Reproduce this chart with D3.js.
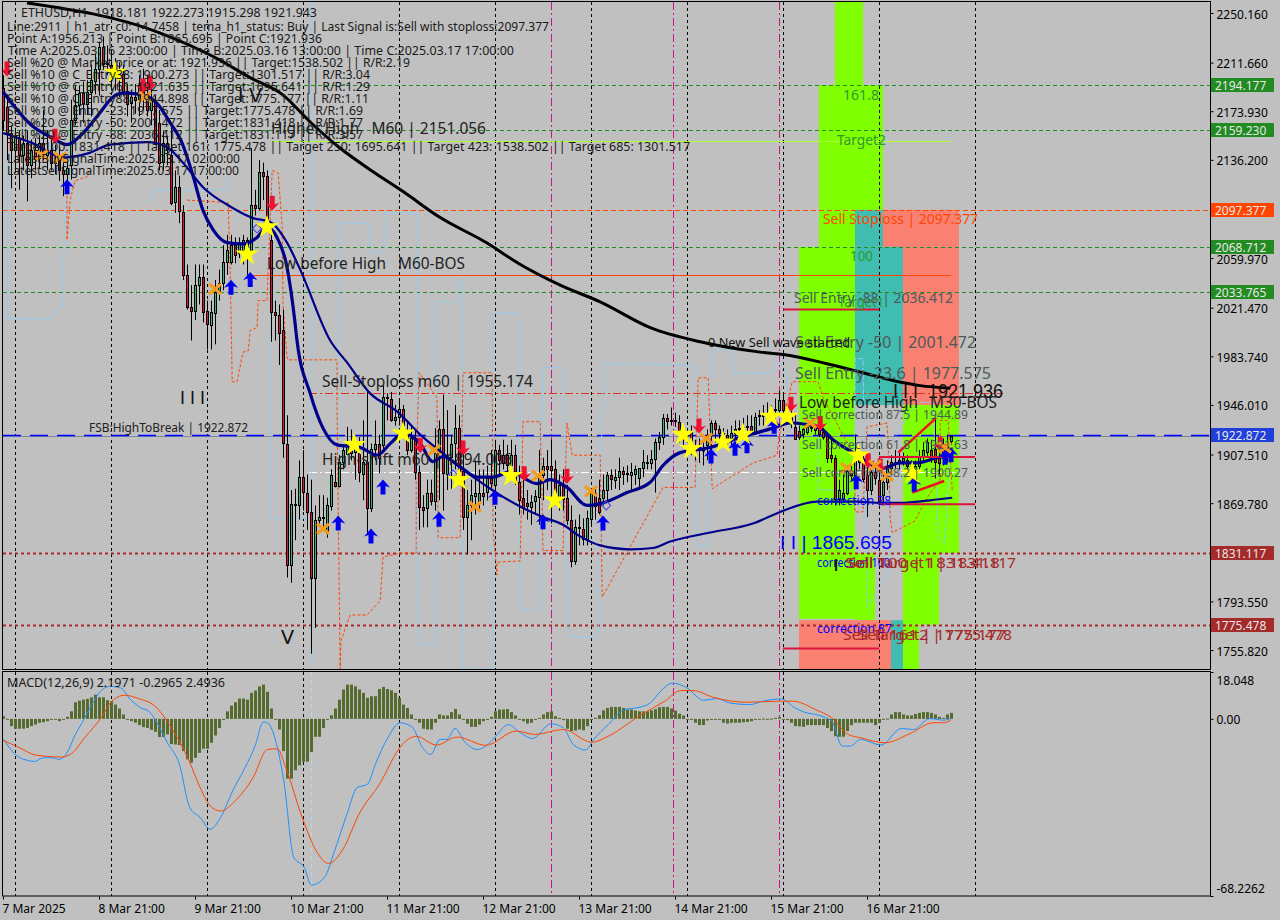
<!DOCTYPE html>
<html><head><meta charset="utf-8">
<script src="https://cdnjs.cloudflare.com/ajax/libs/d3/7.8.5/d3.min.js"></script>
<style>html,body{margin:0;padding:0;background:#c0c0c0}svg{display:block}text{font-family:"Noto Sans",sans-serif;white-space:pre}</style>
</head><body><div id="c"></div>
<script>
const priceTicks=[2250.16,2211.66,2173.93,2136.2,2059.97,2021.47,1983.74,1946.01,1907.51,1869.78,1793.55,1755.82];
const timeLabels=["7 Mar 2025","8 Mar 21:00","9 Mar 21:00","10 Mar 21:00","11 Mar 21:00","12 Mar 21:00","13 Mar 21:00","14 Mar 21:00","15 Mar 21:00","16 Mar 21:00"];
const timeTickBars=[0,24,48,72,96,120,144,168,192,216];
const gridBars=[3,27,51,75,99,123,147,171,195,219,243];
const magentaBars=[137,167.5,194];
const greenLevels=[2194.177,2159.23,2068.712,2033.765];
const badges=[[2194.177,"#228b22"],[2159.23,"#228b22"],[2097.377,"#ff4500"],[2068.712,"#228b22"],[2033.765,"#228b22"],[1922.872,"#1f3fd8"],[1831.117,"#a52a2a"],[1775.478,"#a52a2a"]];
const zones=[
[208,215,2258.7,2194.2,"#7fff00"],[204,220,2194.2,2097.4,"#7fff00"],[204,213,2097.4,2068.7,"#7fff00"],[213,220,2097.4,2068.7,"#40bdb0"],[220,239,2097.4,2068.7,"#fa8072"],
[199,213,2068.7,1780,"#7fff00"],[213,225,2068.7,1946,"#40bdb0"],[225,239,2068.7,1946,"#fa8072"],[225,239,1946,1831.1,"#7fff00"],[225,234,1831.1,1775.5,"#7fff00"],[213,218,1831.1,1779,"#7fff00"],
[199,222,1779,1741,"#fa8072"],[222,225,1779,1741,"#40bdb0"],[225,229,1775.5,1741,"#7fff00"]];
const ohlc=[
[2192,2202,2159,2167],[2177,2187,2136,2157],[2157,2163,2114,2144],[2144,2161,2128,2155],[2153,2159,2113,2140],[2140,2155,2128,2149],[2149,2159,2104,2132],[2132,2152,2122,2144],[2144,2153,2128,2137],[2137,2155,2130,2149],
[2149,2175,2136,2140],[2140,2159,2128,2144],[2144,2155,2128,2134],[2134,2148,2125,2136],[2136,2146,2120,2128],[2128,2140,2108,2125],[2125,2135,2110,2130],[2132,2183,2121,2167],[2167,2194,2163,2179],[2179,2194,2171,2188],
[2188,2197,2165,2180],[2180,2198,2171,2189],[2189,2210,2170,2198],[2198,2218,2187,2207],[2207,2228,2186,2224],[2224,2232,2206,2211],[2211,2225,2202,2210],[2210,2222,2190,2202],[2202,2215,2190,2204],[2204,2212,2185,2206],
[2203,2210,2186,2190],[2190,2195,2170,2180],[2180,2190,2165,2185],[2185,2195,2172,2183],[2183,2202,2170,2194],[2194,2207,2175,2186],[2186,2202,2170,2175],[2175,2194,2163,2183],[2183,2186,2148,2149],[2165,2175,2128,2134],
[2134,2159,2128,2149],[2149,2155,2132,2144],[2140,2163,2101,2103],[2103,2128,2095,2115],[2115,2124,2087,2096],[2096,2101,2043,2047],[2047,2055,2020,2022],[2022,2039,1996,2019],[2019,2055,2012,2039],[2039,2055,2024,2045],
[2045,2055,2010,2018],[2019,2027,1989,2009],[2008,2027,1989,2018],[2018,2043,1993,2034],[2034,2051,2027,2041],[2041,2070,2035,2057],[2057,2078,2047,2066],[2057,2078,2055,2070],[2070,2076,2056,2062],[2064,2076,2060,2072],
[2066,2078,2055,2074],[2074,2076,2047,2064],[2066,2145,2064,2101],[2101,2113,2093,2099],[2099,2136,2097,2127],[2127,2134,2105,2124],[2124,2128,2090,2091],[2074,2086,1995,2018],[2018,2027,1996,2016],[2016,2024,1977,2002],
[2004,2020,1905,1916],[1916,1938,1812,1822],[1822,1880,1808,1869],[1869,1881,1841,1868],[1868,1903,1857,1890],[1890,1911,1864,1878],[1878,1892,1849,1863],[1863,1888,1753,1812],[1812,1868,1773,1857],[1857,1876,1854,1859],
[1859,1876,1849,1858],[1846,1874,1843,1868],[1868,1896,1864,1892],[1886,1905,1882,1883],[1883,1907,1882,1902],[1902,1915,1896,1911],[1908,1929,1907,1916],[1916,1927,1903,1909],[1909,1919,1888,1913],[1909,1921,1886,1894],
[1893,1934,1872,1902],[1902,1957,1846,1866],[1866,1916,1863,1912],[1912,1934,1903,1916],[1916,1923,1893,1905],[1915,1961,1911,1952],[1952,1955,1934,1951],[1951,1956,1933,1935],[1935,1946,1930,1937],[1937,1950,1930,1943],
[1943,1946,1927,1930],[1925,1934,1907,1911],[1911,1930,1909,1920],[1920,1927,1888,1894],[1894,1899,1849,1867],[1867,1876,1851,1865],[1866,1888,1851,1878],[1878,1888,1868,1872],[1872,1928,1864,1909],[1909,1934,1872,1927],
[1927,1954,1864,1893],[1893,1942,1880,1906],[1906,1923,1881,1916],[1916,1946,1896,1928],[1928,1938,1892,1895],[1895,1911,1849,1859],[1859,1880,1830,1868],[1868,1888,1841,1876],[1876,1903,1861,1878],[1870,1896,1864,1878],
[1878,1896,1868,1876],[1878,1899,1872,1889],[1889,1911,1880,1885],[1884,1919,1876,1911],[1911,1915,1892,1903],[1907,1919,1896,1901],[1907,1915,1889,1899],[1899,1919,1888,1907],[1907,1915,1884,1886],[1886,1899,1861,1872],
[1874,1888,1861,1866],[1870,1880,1857,1868],[1867,1876,1853,1871],[1871,1880,1861,1875],[1875,1911,1853,1892],[1892,1905,1872,1899],[1899,1911,1880,1897],[1899,1919,1854,1896],[1896,1903,1868,1872],[1874,1892,1864,1884],
[1884,1896,1864,1873],[1874,1884,1853,1857],[1857,1868,1820,1825],[1825,1857,1822,1851],[1851,1861,1837,1850],[1850,1858,1837,1842],[1841,1864,1837,1858],[1858,1880,1853,1878],[1878,1882,1857,1868],[1874,1888,1861,1863],
[1874,1892,1868,1880],[1880,1894,1872,1892],[1892,1896,1880,1889],[1888,1896,1881,1890],[1890,1905,1880,1895],[1895,1898,1884,1893],[1893,1899,1886,1892],[1892,1901,1880,1894],[1892,1899,1884,1896],[1889,1897,1880,1897],
[1897,1911,1890,1902],[1902,1907,1896,1901],[1901,1911,1896,1904],[1904,1920,1878,1917],[1917,1925,1911,1921],[1921,1939,1915,1936],[1936,1939,1927,1934],[1934,1944,1930,1933],[1933,1940,1929,1934],[1933,1938,1917,1924],
[1924,1930,1915,1923],[1923,1928,1919,1923],[1925,1930,1907,1913],[1913,1919,1903,1912],[1913,1920,1901,1911],[1911,1919,1899,1911],[1915,1927,1903,1923],[1923,1934,1911,1932],[1932,1934,1917,1927],[1927,1930,1915,1924],
[1924,1928,1915,1923],[1923,1927,1912,1920],[1920,1930,1915,1924],[1924,1934,1919,1927],[1927,1934,1921,1928],[1928,1936,1923,1929],[1929,1938,1923,1930],[1930,1938,1923,1925],[1925,1940,1923,1937],[1937,1942,1930,1938],
[1938,1946,1930,1937],[1937,1948,1933,1940],[1940,1946,1930,1942],[1942,1951,1934,1943],[1942,1957,1938,1950],[1950,1954,1940,1942],[1942,1946,1934,1937],[1937,1942,1928,1932],[1929,1938,1919,1920],[1926,1930,1919,1921],
[1923,1928,1920,1927],[1925,1930,1923,1929],[1929,1930,1925,1928],[1929,1931,1923,1927],[1927,1928,1921,1923],[1925,1928,1919,1921],[1922,1925,1901,1905],[1907,1919,1901,1905],[1905,1907,1868,1873],[1873,1888,1868,1880],
[1873,1892,1870,1878],[1878,1899,1876,1895],[1895,1901,1888,1892],[1892,1923,1889,1905],[1905,1911,1896,1902],[1902,1907,1886,1889],[1892,1899,1859,1880],[1880,1899,1876,1894],[1894,1901,1884,1889],[1888,1897,1868,1872],
[1876,1892,1868,1886],[1886,1903,1880,1896],[1897,1907,1892,1902],[1902,1911,1896,1901],[1901,1909,1896,1903],[1903,1909,1899,1905],[1903,1907,1892,1898],[1899,1903,1889,1896],[1897,1903,1889,1899],[1899,1911,1896,1906],
[1906,1917,1901,1911],[1909,1920,1905,1917],[1911,1919,1901,1906],[1912,1936,1889,1902],[1906,1915,1892,1901],[1905,1920,1899,1911],[1909,1923,1901,1915],[1918,1922.3,1915.3,1921.9]];
const blackMa=[[6,2258],[39,2235],[52.8,2216],[61.8,2200],[69.8,2187],[77,2165],[84,2146],[93,2126],[100.3,2111],[109,2092],[120.8,2072],[128.8,2056],[139.3,2039],[149.3,2026],[161.8,2006],[174.3,1995],[189.3,1987],[195.5,1985],[206,1978],[215,1971],[222.5,1965],[229.3,1961],[236.8,1959]];
const fastMa=[[0,2189],[7.5,2162],[12.5,2153],[16,2148],[20,2157],[24.3,2173],[27.5,2185],[30,2188],[34.3,2187],[38.5,2180],[41.8,2165],[44.8,2149],[47.3,2126],[50,2097],[52.5,2082],[56,2072],[60,2071],[63.5,2076],[66,2084],[68.5,2076],[71,2053],[73,2010],[73.5,1996],[76.8,1955],[80,1928],[83.5,1915],[89.3,1913],[93.5,1907],[96.8,1916],[100,1924],[104.3,1916],[107.5,1902],[110,1906],[114.3,1898],[118.5,1890],[122.5,1890],[126.8,1894],[133.5,1885],[136.8,1888],[141,1882],[146,1868],[150,1870],[156,1878],[161.8,1886],[165,1899],[169.3,1909],[176.8,1913],[183.5,1920],[192.5,1928],[196.8,1932],[204.3,1928],[207.5,1919],[212.5,1909],[220,1897],[224.3,1901],[228.5,1901],[233.5,1905],[236.8,1907]];
const midMa=[[0,2157],[7.5,2149],[15,2138],[21,2141],[26.8,2148],[36,2150],[41,2146],[45,2134],[50,2115],[56.8,2100],[62.5,2091],[66.8,2088],[71,2072],[74.3,2051],[81.8,1996],[86,1979],[91.8,1955],[98.5,1941],[105,1921],[111,1906],[118.5,1888],[124.3,1876],[130,1866],[135,1859],[140,1853],[144.3,1844],[149.3,1837],[156.8,1834],[162.5,1835],[166.8,1840],[176.8,1847],[187.5,1854],[194.3,1863],[203.5,1871],[213.5,1871],[219.3,1870],[224.3,1870],[231.8,1872],[237.3,1874]];
const blueStepA=[[1,2144],[1,2013],[12.3,2013],[13,2020],[15,2022],[15.5,2105]];
const blueStepB=[[35.5,2105],[36.8,2105],[37.5,2113],[56.3,2113],[56.3,2123]];
const blueStepC=[[67,2128],[67,1858],[78,1858]];
const blueStepD=[[77,2258],[77,1741]];
const blueStepE=[[84,1896],[84,2087],[91.3,2087],[91.8,2064],[95.3,2064],[95.3,2095],[103.3,2095],[103.8,1760],[108.3,1760],[108.3,2026],[113.5,2026],[113.5,2043],[115,2043],[115,1741],[122.5,1741],[122.5,2017],[128.8,2017],[129.3,1787],[134,1787],[135,1975],[140,1975],[141.3,1766],[148.8,1766],[150,1978],[173,1977],[173.5,1836],[176,1836],[177.3,1989],[182.3,1989],[183,1971],[192.3,1971],[193.5,1983],[196,1971],[196.8,1927],[203.8,1927],[203.8,1880],[213,1880],[213,1982],[215,1982],[216,1789],[221.3,1814],[221.3,1913],[228.5,1948],[232.5,1948],[233.8,1843],[235.5,1839],[236.8,1913]];
const orangeStepA=[[16,2120],[16,2074],[16.8,2105],[18,2120],[21,2123],[21.8,2130]];
const orangeStepB=[[46,2105],[56.3,2103],[56.8,2051],[57.3,1964],[58.5,1964],[60,1987],[61.3,1988],[61.8,2004],[63.5,2006],[63.8,2027],[66,2027],[66.3,2051],[67.3,2128],[68.8,2126],[69.8,2084],[70,2025],[71,1983],[71.3,1981],[79.3,1981],[83.5,1981],[83.5,1944],[84.3,1741],[84.5,1763],[86.8,1783],[91,1783],[94.3,1794],[95,1828],[99.3,1831],[103.3,1831],[103.3,1895],[104,1971],[108.5,1952],[108.8,1843],[114.3,1843],[115,1971],[122.3,1971],[122.5,1851],[123.5,1814],[123.5,1824],[129.3,1825],[130,1933],[134.3,1933],[134.8,1867],[135,1833],[140,1833],[141,1932],[142.3,1907],[149.3,1907],[149.8,1797],[156.8,1836],[165,1882],[173,1882],[173.8,1967],[176.3,1967],[177.3,1881],[179.3,1885],[187.5,1901],[193.5,1907],[194,1921],[197.3,1964],[203.8,1964],[205,1952],[213,1905],[213,1863],[215,1863],[216,1929],[221,1932],[221.3,1916],[221.8,1859],[222.3,1847],[228,1856],[231,1874],[234.3,1888],[234.3,1934],[236.3,1934],[237.3,1880]];
const crimsonSegs=[[195,219,2020],[219,243,1905.6],[219,243,1869],[195,219,1757]];
const redTrend=[[[223.8,1909],[233.3,1936]],[[227.3,1878],[235.3,1887]]];
const blueArrows=[[16,2115],[57,2037],[61.8,2043],[83.8,1854],[92,1844],[95,1882],[109,1857],[123,1874],[135,1855],[150,1854],[177,1906],[183,1912],[186,1914],[192.8,1929],[213.3,1886],[227.8,1884],[237,1907],[235.5,1905]];
const redArrows=[[1,2207],[13,2155],[35,2194],[36.8,2196],[67.3,2103],[104.3,1915],[115,1913],[130.3,1893],[141,1891],[174,1930],[197,1947],[204.3,1932],[216.3,1903],[219.3,1899],[234.3,1916]];
const stars=[[28,2204],[61,2063],[66,2084],[87.8,1915],[100,1924],[114,1888],[127,1891],[138,1872],[170,1923],[172,1912],[180,1917],[185,1923],[192,1937],[196,1937],[213.8,1907],[227.3,1893]];
const crosses=[[9.7,2140],[14.3,2138],[35.5,2185],[53,2036],[80,1850],[107.8,1911],[118,1867],[133.8,1891],[147,1879],[175.8,1920],[201.8,1932],[211,1897],[218,1899],[221,1891],[235.5,1913]];
const diamonds=[[63.5,2083],[112.5,1892],[150.8,1868]];
const macdHist=[1.0,-0.3,-2.8,-3.8,-3.8,-3.8,-3.5,-2.8,-2.2,-1.5,-1.3,-0.9,-0.3,-0.3,-0.9,0,0.8,2.9,6.4,7.0,7.4,7.7,8.3,9.3,8.3,8.3,7.2,6.8,5.5,4.0,1.7,0,-0.9,-1.5,-2.4,-3.2,-3.5,-4.2,-5.0,-7.0,-7.0,-6.0,-9.7,-9.9,-10.1,-12.4,-15.6,-16.9,-15.0,-13.1,-11.5,-11.5,-9.2,-6.4,-3.5,-0.3,2.9,5.1,6.4,7.8,7.8,7.4,10.0,10.9,12.5,13.2,10.4,4.0,-0.3,-4.1,-12.4,-23.0,-23.0,-19.8,-17.9,-16.5,-16.5,-12.8,-6.9,-6.9,-3.5,0,1.4,4.0,7.4,11.3,13.2,13.2,12.5,11.3,10.0,8.1,8.7,8.7,11.5,12.3,11.5,11.0,10.0,8.1,5.5,4.2,1.7,0,-1.5,-3.8,-4.1,-4.1,-1.5,1.7,1.3,1.3,2.6,3.8,1.7,0,-1.9,-3.1,-3.1,-2.2,-0.9,-0.3,0.8,2.9,3.6,3.6,3.8,2.6,1.3,0,-0.9,-1.8,-1.5,-0.3,0.4,1.7,2.6,2.9,1.0,0.4,-0.5,-3.8,-4.7,-4.5,-4.1,-4.4,-2.8,-0.5,0.4,1.4,3.3,4.2,4.6,4.6,4.6,4.2,3.6,3.6,3.2,2.9,2.9,2.9,3.3,3.7,4.5,4.6,4.6,4.0,3.2,2.0,1.3,0,-0.3,-1.5,-2.4,-2.4,-0.6,-0.3,-0.3,-0.3,-1.5,-1.8,-1.5,-1.5,-1.5,-1.3,-1.2,-0.9,-0.3,-0.3,0.1,-0.3,0.1,0.4,0.6,0,-0.5,-1.5,-2.8,-2.9,-3.1,-2.4,-2.4,-2.4,-2.4,-2.4,-3.5,-4.7,-6.7,-6.9,-6.9,-4.7,-2.4,-1.5,-1.5,-1.5,-1.5,-1.5,-2.4,-1.5,-0.3,0.1,1.7,2.6,2.6,1.7,1.3,1.3,1.9,2.3,2.6,2.6,2.3,1.7,0.8,0.4,1.7,2.3];
const macdMain=[[0,-7.6],[1.3,-10.5],[3.3,-14],[5.9,-15.9],[7.9,-16.4],[10,-15],[12.5,-15],[14,-15.6],[16,-13.1],[18.1,-6],[20.2,-0.3],[22.7,6.8],[24.8,11.3],[26.8,12.5],[29.4,11.9],[31.9,7.4],[34.5,4.2],[36.5,2.9],[38.5,-1.5],[41.1,-9.2],[44.1,-17.5],[46.7,-34.2],[49.3,-38],[51.8,-42.5],[54.4,-38],[57.4,-27.8],[60.5,-18.8],[63,-10.5],[65.1,-1.2],[66.1,-1.5],[68.6,-11.1],[70.2,-23.9],[72.7,-53.4],[75.3,-57.2],[77.1,-64],[80.4,-61],[82.9,-50.8],[86,-36.7],[88.5,-26.5],[91.1,-25.2],[93.1,-17.5],[96.2,-7.3],[99.3,-1.5],[102.3,-3.2],[104.9,-11.1],[106.9,-13.7],[109.3,-7.9],[111,-7.9],[113,-3.7],[115.6,-9.2],[118.6,-11.8],[120.7,-10.5],[123.2,-6.7],[126.3,-2.2],[129.4,-5.4],[132.4,-7.6],[137,-1.9],[140.1,-3.5],[142.6,-9.9],[145.7,-12],[147.7,-7.9],[151.3,-2.2],[155.4,3.6],[159.25,4.5],[161.8,6.1],[164.4,10.6],[167.4,13.8],[171,11.9],[175.1,7.2],[178.6,7.8],[181.7,6.1],[186.8,5.5],[189.9,6.8],[194.5,7.7],[198,4.2],[200.1,2.7],[204.1,1.3],[207.2,-0.9],[209.8,-10.5],[211.8,-10.5],[214.4,-7.9],[219.5,-10.1],[224.6,-3.7],[227.6,-4.1],[231.7,0.1],[235.3,-0.5],[237,0.3]];
const macdSignal=[[0,-8.3],[3.3,-10.5],[8.4,-14],[14.6,-14.7],[17.1,-13.4],[20.7,-6.7],[24.8,1],[26.8,6.1],[30.4,9.1],[33.9,7.8],[38,4.9],[42.1,-3.5],[46.2,-15],[49.3,-26.5],[51.8,-33.5],[54.4,-35.5],[58.4,-31],[62.5,-22.7],[66.1,-11.8],[68.6,-11.5],[70.7,-18.8],[74.8,-38],[78.3,-50.8],[81.4,-55.7],[85,-50.2],[89,-36.7],[94.1,-25.2],[99.8,-9.9],[103.3,-6.7],[108.4,-10.1],[113.5,-7],[120.7,-10.2],[128.3,-4.7],[132.9,-6],[140.1,-4.1],[147.2,-9],[151.3,-6.7],[159.25,1.3],[165.4,6.8],[169.5,10.9],[172.5,10.9],[177.6,8.3],[185.8,6.4],[193.9,6.8],[197.5,6.8],[203.1,3.6],[207.2,0.4],[211.3,-6],[214.4,-7.3],[220.5,-9.2],[226.6,-5.8],[232.7,-1.5],[235.3,-1.5],[237,-0.3]];
const macdTicks=[18.048,0,-68.2262];
const headerLines=[
["ETHUSD,H1  1918.181 1922.273 1915.298 1921.943",21,317,12],
["Line:2911 | h1_atr_c0: 14.7458 | tema_h1_status: Buy | Last Signal is:Sell with stoploss:2097.377",7,549,26],
["Point A:1956.213 | Point B:1865.695 | Point C:1921.936",7,322,38],
["Time A:2025.03.16 23:00:00 | Time B:2025.03.16 13:00:00 | Time C:2025.03.17 17:00:00",8,514,50],
["Sell %20 @ Market price or at: 1921.936 || Target:1538.502 || R/R:2.19",7,410,62],
["Sell %10 @ C_Entry38: 1900.273 || Target:1301.517 || R/R:3.04",7,370,74],
["Sell %10 @ C_Entry61: 1921.635 || Target:1695.641 || R/R:1.29",7,370,86],
["Sell %10 @ C_Entry88: 1944.898 || Target:1775.177 || R/R:1.11",7,369,98],
["Sell %10 @ Entry -23: 1977.575 || Target:1775.478 || R/R:1.69",7,363,110],
["Sell %20 @ Entry -50: 2001.472 || Target:1831.418 || R/R:1.77",7,363,122],
["Sell %20 @ Entry -88: 2036.412 || Target:1831.117 || R/R:3.57",7,363,134],
["Target100: 1831.418 || Target 161: 1775.478 || Target 250: 1695.641 || Target 423: 1538.502 || Target 685: 1301.517",7,690,146],
["LatestBuySignalTime:2025.03.17 02:00:00",7,240,158],
["LatestSellSignalTime:2025.03.17 17:00:00",7,239,170]];
const notes=[
["161.8",843,879,94,14,"#2f9a2f"],["Target2",837,886,139,14,"#2f9a2f"],["100",850,873,255,14,"#2f9a2f"],["Target1",838,884,301,14,"#2f9a2f"],
["Sell Stoploss | 2097.377",823,978,218,15,"#ff4500"],
["Higher High   M60 | 2151.056",271,486,128,16,"#222"],["I V",238,262,95,20,"#111"],["I I I",180,205,398,18,"#111"],["V",281,294,636,20,"#111"],
["Low before High   M60-BOS",267,465,263,16,"#222"],["Sell-Stoploss m60 | 1955.174",322,533,381,16,"#222"],["High-shift m60 | 1894.006",322,512,459,16,"#222"],
["FSB:HighToBreak | 1922.872",89,248,427,12,"#222"],
["Sell Entry -88 | 2036.412",794,953,297,14,"#4d5a5a"],["Sell Entry -50 | 2001.472",795,976,342,16,"#4d5a5a"],["Sell Entry -23.6 | 1977.575",795,991,373,16,"#4d5a5a"],
["0 New Sell wave started",708,850,342,12,"#111"],["I I I  1921.936",893,1003,391,20,"#111"],["Low before High   M30-BOS",799,997,402,16,"#222"],
["Sell correction 87.5 | 1944.89",802,968,414,13,"#4d5a5a"],["Sell correction 61.8 | 1921.63",802,968,444,13,"#4d5a5a"],["Sell correction 38.2 | 1900.27",802,968,472,13,"#4d5a5a"],
["correction 38",817,891,500,13,"#0000ff"],["I I | 1865.695",780,892,543,18,"#0000ff"],["correction 100",817,890,562,13,"#0000ff"],["correction 87",817,892,628,13,"#0000ff"],
["Sell 100 | 1831.418",845,1000,562,15,"#a52a2a"],["Sell Target1 | 1831.117",848,1016,562,15,"#a52a2a"],["Sell Target2 | 1775.478",843,1012,634,15,"#a52a2a"],["Sell 161 | 1775.177",858,1006,634,15,"#a52a2a"],
["I",833,839,565,16,"#111"]];

const W=1280,H=920,L=3,R=1210,T=2,B=669,MT=672,MB=896;
const svg=d3.select("#c").append("svg").attr("width",W).attr("height",H).style("background","#c0c0c0");
const x=d3.scaleLinear().domain([0,301.75]).range([L,R]);
const y=d3.scaleLinear().domain([2258.7,1741.1]).range([T,B]);
const my=d3.scaleLinear().domain([18.048,-68.2262]).range([MT,MB]);
const px=i=>Math.round(x(i))+0.5;
const defs=svg.append("defs");
defs.append("clipPath").attr("id","cm").append("rect").attr("x",L).attr("y",T).attr("width",R-L).attr("height",B-T);
defs.append("clipPath").attr("id","cd").append("rect").attr("x",L).attr("y",MT).attr("width",R-L).attr("height",MB-MT);
const main=svg.append("g").attr("clip-path","url(#cm)");
const sub=svg.append("g").attr("clip-path","url(#cd)");
const ln=d3.line().x(d=>x(d[0])).y(d=>y(d[1]));
const lnC=d3.line().x(d=>x(d[0])).y(d=>y(d[1])).curve(d3.curveMonotoneX);
const mln=d3.line().x(d=>x(d[0])).y(d=>my(d[1])).curve(d3.curveMonotoneX);

main.selectAll("rect.z").data(zones).join("rect").attr("x",d=>x(d[0])).attr("width",d=>x(d[1])-x(d[0])).attr("y",d=>y(d[2])).attr("height",d=>y(d[3])-y(d[2])).attr("fill",d=>d[4]);

const vline=(g,b,y0,y1,c,da)=>g.append("line").attr("x1",px(b)).attr("x2",px(b)).attr("y1",y0).attr("y2",y1).attr("stroke",c).attr("stroke-dasharray",da);
gridBars.forEach(b=>{vline(main,b,T,B,"#000","3,3");vline(sub,b,MT,MB,"#000","3,3");});
magentaBars.forEach(b=>{vline(main,b,T,B,"#c71585","8,3,2,3");vline(sub,b,MT,MB,"#c71585","8,3,2,3");});
vline(sub,77,MT,MB,"#add8e6","5,3");

const hline=(p,b0,b1,c,w,da)=>main.append("line").attr("x1",x(b0)).attr("x2",x(b1)).attr("y1",Math.round(y(p))+.5).attr("y2",Math.round(y(p))+.5).attr("stroke",c).attr("stroke-width",w).attr("stroke-dasharray",da||null);
greenLevels.forEach(p=>hline(p,0,301.75,"#228b22",1,"4,3"));
hline(2097.377,0,301.75,"#ff4500",1,"5,3");
hline(1831.117,0,301.75,"#a52a2a",2,"3,3");
hline(1775.478,0,301.75,"#a52a2a",2,"3,3");
hline(1921.94,0,301.75,"#778899",1);
hline(1922.872,0,301.75,"#0000ff",1.5,"18,9");
hline(1955.174,76.5,250,"#e03020",1,"8,3,2,3");
hline(1894.006,76.5,238,"#ffffff",1,"8,3,2,3");
hline(2151.056,67,237,"#adff2f",1);
hline(2047,61,237,"#ff4500",1);

[blueStepA,blueStepB,blueStepC,blueStepD,blueStepE].forEach(s=>main.append("path").attr("d",ln(s)).attr("fill","none").attr("stroke","#87cefa").attr("stroke-width",1).attr("stroke-dasharray","5,2"));
[orangeStepA,orangeStepB].forEach(s=>main.append("path").attr("d",ln(s)).attr("fill","none").attr("stroke","#ff4500").attr("stroke-width",1).attr("stroke-dasharray","3,2"));

const cg=main.append("g");
cg.selectAll("line").data(ohlc).join("line").attr("x1",(d,i)=>px(i)).attr("x2",(d,i)=>px(i)).attr("y1",d=>y(d[1])).attr("y2",d=>y(d[2])).attr("stroke","#000");
cg.selectAll("rect").data(ohlc).join("rect").attr("x",(d,i)=>px(i)-1).attr("width",2)
 .attr("y",d=>Math.round(y(Math.max(d[0],d[3])))+.5).attr("height",d=>Math.max(0.5,Math.round(Math.abs(y(d[0])-y(d[3])))))
 .attr("fill",d=>d[3]>=d[0]?"#3cb371":"#dc143c").attr("stroke","#000");

main.append("path").attr("d",lnC(blackMa)).attr("fill","none").attr("stroke","#000").attr("stroke-width",3);
main.append("path").attr("d",lnC(midMa)).attr("fill","none").attr("stroke","#00008b").attr("stroke-width",2.2);
main.append("path").attr("d",lnC(fastMa)).attr("fill","none").attr("stroke","#00008b").attr("stroke-width",3.2);

crimsonSegs.forEach(s=>main.append("line").attr("x1",x(s[0])).attr("x2",x(s[1])).attr("y1",y(s[2])).attr("y2",y(s[2])).attr("stroke","#dc143c").attr("stroke-width",2));
redTrend.forEach(s=>main.append("path").attr("d",ln(s)).attr("stroke","#ee1122").attr("stroke-width",2.5).attr("fill","none"));

const arrow="M0,-8L7,0L2.5,-1.5L2.5,7L-2.5,7L-2.5,-1.5L-7,0Z";
main.selectAll("path.ba").data(blueArrows).join("path").attr("d",arrow).attr("fill","#0000ee").attr("transform",d=>`translate(${x(d[0])},${y(d[1])})`);
main.selectAll("path.ra").data(redArrows).join("path").attr("d",arrow).attr("fill","#f01030").attr("transform",d=>`translate(${x(d[0])},${y(d[1])}) rotate(180)`);
main.selectAll("path.di").data(diamonds).join("path").attr("d",d3.symbol(d3.symbolSquare,40)).attr("fill","none").attr("stroke","#4040ee").attr("transform",d=>`translate(${x(d[0])},${y(d[1])}) rotate(45)`);
main.selectAll("path.x").data(crosses).join("path").attr("d","M-6,-5L6,5M-6,5L6,-5").attr("stroke","#f59a1c").attr("stroke-width",3.2).attr("fill","none").attr("transform",d=>`translate(${x(d[0])},${y(d[1])})`);
main.selectAll("path.s").data(stars).join("path").attr("d",d3.symbol(d3.symbolStar,170)).attr("fill","#ffff00").attr("transform",d=>`translate(${x(d[0])},${y(d[1])})`);

sub.selectAll("rect").data(macdHist).join("rect").attr("x",(d,i)=>px(i)-1.5).attr("width",3).attr("y",d=>d>=0?my(d):my(0)).attr("height",d=>Math.max(1,Math.abs(my(d)-my(0)))).attr("fill","#556b2f");
sub.append("path").attr("d",mln(macdMain)).attr("fill","none").attr("stroke","#1e90ff");
sub.append("path").attr("d",mln(macdSignal)).attr("fill","none").attr("stroke","#ff4500");

svg.append("rect").attr("x",2.5).attr("y",1.5).attr("width",R-2.5+.5).attr("height",B-1).attr("fill","none").attr("stroke","#000");
svg.append("rect").attr("x",2.5).attr("y",671.5).attr("width",R-2.5+.5).attr("height",MB-671.5).attr("fill","none").attr("stroke","#000");

const styleAxis=g=>{g.select(".domain").remove();g.selectAll("line").attr("stroke","#000");g.selectAll("text").attr("fill","#000").style("font-size","12px").style("font-family",'"Noto Sans",sans-serif');};
const pAxis=svg.append("g").attr("transform",`translate(${R+.5},0)`).call(d3.axisRight(y).tickValues(priceTicks).tickFormat(d3.format(".3f")).tickSize(3).tickPadding(3)).call(styleAxis);
pAxis.selectAll("text").attr("dy","0.42em");
const mAxis=svg.append("g").attr("transform",`translate(${R+.5},0)`).call(d3.axisRight(my).tickValues(macdTicks).tickFormat(d=>d===0?"0.00":String(d)).tickSize(3).tickPadding(3)).call(styleAxis);
mAxis.selectAll("g.tick text").attr("dy",d=>d>0?"12.5px":d<0?"-4px":"0.42em");
const xAxis=svg.append("g").attr("transform",`translate(0,${MB+.5})`).call(d3.axisBottom(x).tickValues(timeTickBars).tickFormat((d,i)=>timeLabels[i]).tickSize(3).tickPadding(5)).call(styleAxis);
xAxis.selectAll("text").attr("text-anchor","start").attr("dx","-1px");

const isBars=s=>/^I( I)*( |$)|^I V$/.test(s);
const label=(s,x0,x1,cy,size,color)=>svg.append("text").attr("x",x0).attr("y",cy).attr("dominant-baseline","central").attr("textLength",x1-x0).attr("lengthAdjust","spacingAndGlyphs").style("font-size",size+"px").style("font-family",isBars(s)?'"Liberation Sans",sans-serif':null).attr("fill",color).text(s);
badges.forEach(b=>{const c=Math.round(y(b[0]));
 svg.append("rect").attr("x",1211).attr("y",c-7).attr("width",63).attr("height",14).attr("fill",b[1]);
 svg.append("text").attr("x",1215).attr("y",c).attr("dominant-baseline","central").attr("fill","#e8e8e8").style("font-size","12px").text(d3.format(".3f")(b[0]));});
notes.forEach(n=>label(...n));
headerLines.forEach(h=>label(h[0],h[1],h[2],h[3],12,"#1a1a1a"));
label("MACD(12,26,9) 2.1971 -0.2965 2.4936",7,225,682,12,"#1a1a1a");
</script></body></html>
